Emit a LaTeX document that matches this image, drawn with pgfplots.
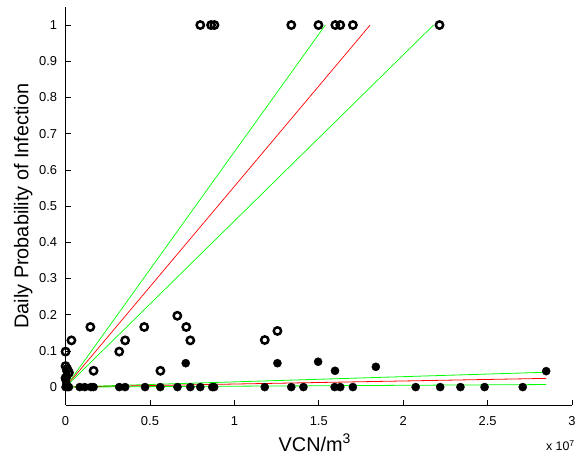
\documentclass[border=0pt]{standalone}
\usepackage{fontspec}
\setmainfont{Liberation Sans}
\usepackage{pgfplots}
\pgfplotsset{compat=1.18}
\begin{document}
\begin{tikzpicture}
\begin{axis}[
  scale only axis,
  width=510pt, height=401pt,
  xmin=0, xmax=3e7, ymin=-0.05, ymax=1.05,
  axis x line*=bottom, axis y line*=left,
  axis line style={-, line width=0.8pt},
  tick align=inside,
  major tick length=5pt,
  tick style={line width=0.6pt, black},
  xtick={0,0.5e7,1e7,1.5e7,2e7,2.5e7,3e7},
  ytick={0,0.1,0.2,0.3,0.4,0.5,0.6,0.7,0.8,0.9,1},
  yticklabels={0,0.1,0.2,0.3,0.4,0.5,0.6,0.7,0.8,0.9,1},
  scaled x ticks=base 10:-7,
  xtick scale label code/.code={x 10\textsuperscript{7}},
  every x tick scale label/.style={at={(axis description cs:1,0)}, anchor=east, yshift=-33pt, xshift=3pt, inner sep=0pt, font=\fontsize{12.5}{14}\selectfont},
  /pgf/number format/assume math mode=true,
  ticklabel style={font=\fontsize{13}{15}\selectfont},
  xticklabel style={yshift=-8pt},
  yticklabel style={xshift=-5pt},
  xlabel={VCN/m\textsuperscript{3}},
  ylabel={Daily Probability of Infection},
  label style={font=\fontsize{20}{22}\selectfont},
  xlabel style={at={(axis description cs:0.5,0)}, anchor=center, yshift=-38pt, xshift=-4pt},
  ylabel style={at={(axis description cs:0,0.5)}, anchor=south, inner sep=0pt, yshift=33pt},
  clip=false,
]
\coordinate (ll) at (axis description cs:0,0);
\coordinate (ur) at (axis description cs:1,1);
% open circles (infected)
\addplot[only marks, mark=o, mark size=3.7pt, mark options={line width=2.5pt, black}] coordinates {
(0.798e7,1) (0.862e7,1) (0.882e7,1) (1.337e7,1) (1.498e7,1) (1.598e7,1) (1.627e7,1) (1.702e7,1) (2.215e7,1)
(0,0.098) (0.035e7,0.129) (0.147e7,0.166) (0.353e7,0.129) (0.318e7,0.098) (0.166e7,0.045)
(0.466e7,0.166) (0.562e7,0.045) (0.662e7,0.197) (0.715e7,0.166) (0.739e7,0.129)
(1.18e7,0.13) (1.255e7,0.155)
(0,0.058) (0.01e7,0.05) (0.0e7,0.025) (0.02e7,0.04)
};
% filled circles
\addplot[only marks, mark=*, mark size=4.1pt, mark options={black, fill=black}] coordinates {
(0.712e7,0.066) (1.255e7,0.066) (1.496e7,0.07) (1.596e7,0.045) (1.838e7,0.056) (2.847e7,0.044)
(0,0) (0.01e7,0) (0.02e7,0) (0.005e7,0.01) (0.0e7,0.02) (0.01e7,0.03) (0.005e7,0.045)
(0.084e7,0) (0.114e7,0) (0.151e7,0) (0.166e7,0)
(0.318e7,0) (0.353e7,0) (0.471e7,0) (0.561e7,0) (0.663e7,0) (0.739e7,0) (0.798e7,0) (0.869e7,0) (0.880e7,0)
(1.180e7,0) (1.337e7,0) (1.409e7,0) (1.594e7,0) (1.627e7,0) (1.702e7,0)
(2.074e7,0) (2.219e7,0) (2.339e7,0) (2.482e7,0) (2.708e7,0)
};
% fitted lines
\addplot[green, line width=0.7pt] coordinates {(0,0) (1.539e7,1)};
\addplot[red, line width=0.7pt] coordinates {(0,0) (1.804e7,1)};
\addplot[green, line width=0.7pt] coordinates {(0,0) (2.18e7,1)};
\addplot[green, line width=0.8pt] coordinates {(0,0) (2.847e7,0.041)};
\addplot[red, line width=0.8pt] coordinates {(0,0) (2.847e7,0.024)};
\addplot[green, line width=0.8pt] coordinates {(0,0) (2.847e7,0.007)};
\end{axis}
\pgfresetboundingbox
\path ([xshift=-66pt,yshift=-54pt]ll) rectangle ([xshift=5pt,yshift=7pt]ur);
\end{tikzpicture}
\end{document}
